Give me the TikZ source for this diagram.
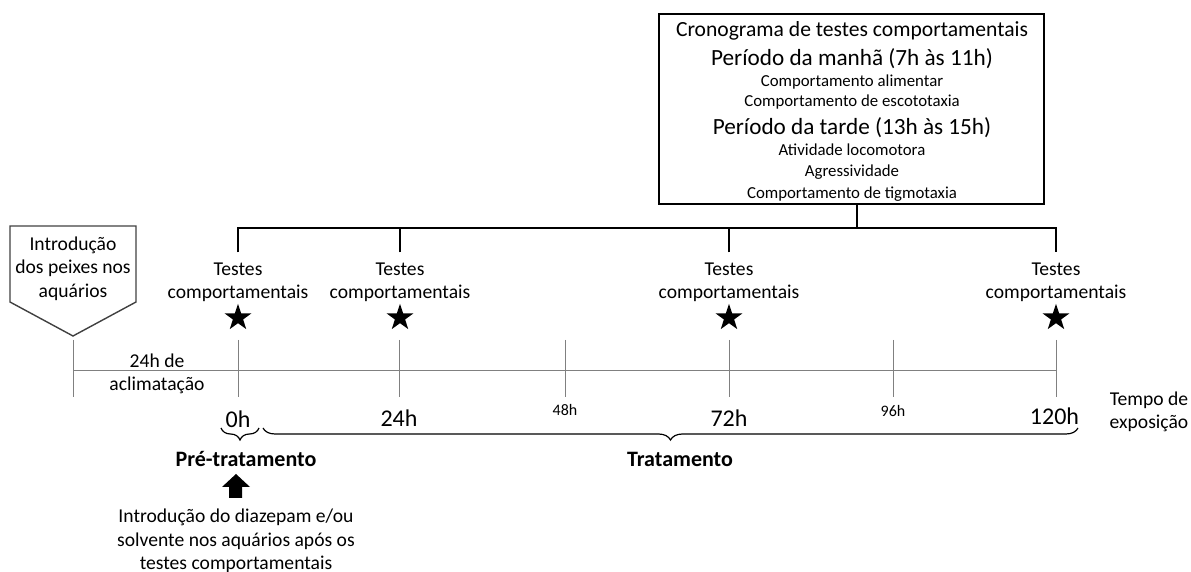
\documentclass[tikz,border=0pt]{standalone}
\usepackage{fontspec}
\setmainfont{Carlito}
\usetikzlibrary{positioning,shapes.geometric,decorations.pathreplacing}

\tikzset{
  lbl/.style={align=center,inner sep=0pt,font=\fontsize{9.8}{11.75}\selectfont},
  boxline/.style={inner sep=0pt,font=\fontsize{8.4}{9}\selectfont},
  period/.style={inner sep=0pt,font=\fontsize{11.6}{13}\selectfont},
  bigh/.style={inner sep=0pt,font=\fontsize{12}{13}\selectfont},
  smallh/.style={inner sep=0pt,font=\fontsize{8}{9}\selectfont},
  stage/.style={inner sep=0pt,font=\fontsize{11}{13}\bfseries\selectfont},
  tline/.style={draw=gray,line width=0.5pt},
  link/.style={line width=0.9pt},
  teststar/.style={star,star points=5,star point ratio=2.6,fill=black,
    inner sep=0pt,minimum size=14pt},
  brace/.style={decorate,decoration={brace,mirror,amplitude=6pt},line width=0.6pt}
}

\begin{document}
\begin{tikzpicture}[x=0.5pt,y=-0.5pt]
  \useasboundingbox (0,0) rectangle (1191,572);

  % schedule box
  \node[draw,line width=0.9pt,minimum width=192.5pt,minimum height=95pt,inner sep=0pt]
    (crono) at (851.5,109) {};
  \node[inner sep=0pt,font=\fontsize{10.8}{12}\selectfont] (title) at (852,31)
    {Cronograma de testes comportamentais};
  \node[period] (manha) at (852,59) {Período da manhã (7h às 11h)};
  \node[boxline] (alim) at (852,82) {Comportamento alimentar};
  \node[boxline] (escoto) at (852,102) {Comportamento de escototaxia};
  \node[period] (tarde) at (852,128) {Período da tarde (13h às 15h)};
  \node[boxline] (locom) at (852,150) {Atividade locomotora};
  \node[boxline] (agress) at (852,172) {Agressividade};
  \node[boxline] (tigmo) at (852,194) {Comportamento de tigmotaxia};

  % fish introduction
  \draw[draw=black!75,line width=0.7pt] (10,226) -- (136,226) -- (136,302)
    -- (73,336) -- (10,302) -- cycle;
  \node[lbl] (intro) at (73,268.5) {Introdução\\dos peixes nos\\aquários};

  % behavioural tests
  \node[lbl] (test0) at (238,282.5) {Testes\\comportamentais};
  \node[lbl] (test24) at (400,282.5) {Testes\\comportamentais};
  \node[lbl] (test72) at (729,282.5) {Testes\\comportamentais};
  \node[lbl] (test120) at (1056,282.5) {Testes\\comportamentais};
  \node[teststar,below=0pt of test0] (star0) {};
  \node[teststar,below=0pt of test24] (star24) {};
  \node[teststar,below=0pt of test72] (star72) {};
  \node[teststar,below=0pt of test120] (star120) {};

  \coordinate (hub) at (857,228);
  \draw[link] (hub) -- (hub |- crono.south);
  \draw[link,shorten <=5pt,shorten >=5pt] (test0.north) |- (hub) -| (test120.north);
  \draw[link,shorten <=5pt] (test24.north) -- (test24.north |- hub);
  \draw[link,shorten <=5pt] (test72.north) -- (test72.north |- hub);

  % time axis
  \draw[tline] (73,371) -- (1056,371);
  \foreach \x in {73,238,399,565,729,893,1056}
    \draw[tline] (\x,340) -- (\x,397);
  \node[lbl] (aclim) at (157,374) {24h de\\aclimatação};
  \node[bigh] (h0) at (238,419) {0h};
  \node[bigh] (h24) at (399,418) {24h};
  \node[smallh] (h48) at (565,410) {48h};
  \node[bigh] (h72) at (729,418) {72h};
  \node[smallh] (h96) at (893,411) {96h};
  \node[bigh] (h120) at (1054.5,416) {120h};
  \node[lbl] (tempo) at (1149,412) {Tempo de\\exposição};

  % phases
  \draw[brace] (221,428) -- (259,428);
  \draw[brace] (263,428) -- (1078,428);
  \node[stage] (pre) at (246,459) {Pré-tratamento};
  \node[stage] (trat) at (680,459) {Tratamento};

  % diazepam arrow
  \fill (229,498) -- (229,487) -- (222,487) -- (236,474) -- (250,487)
    -- (242,487) -- (242,498) -- cycle;
  \node[lbl] (diaz) at (236,541)
    {Introdução do diazepam e/ou\\solvente nos aquários após os\\testes comportamentais};
\end{tikzpicture}
\end{document}
